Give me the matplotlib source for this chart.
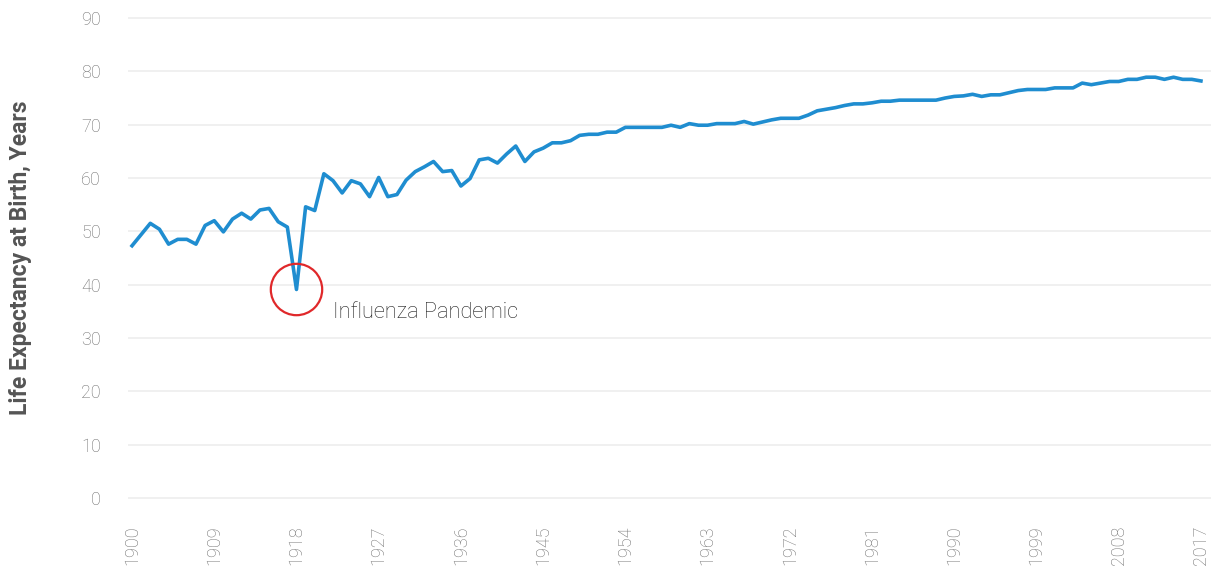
import matplotlib.pyplot as plt

# US life expectancy at birth
years = list(range(1900, 2018))
life_exp = [
    47.3, 49.4, 51.5, 50.4, 47.6, 48.5, 48.5, 47.6, 51.1, 52.0,   # 1900s
    49.9, 52.3, 53.4, 52.3, 54.0, 54.3, 51.8, 50.8, 39.1, 54.6,   # 1910s
    53.9, 60.8, 59.5, 57.2, 59.5, 58.9, 56.5, 60.1, 56.5, 56.9,   # 1920s
    59.6, 61.2, 62.1, 63.1, 61.2, 61.4, 58.5, 59.9, 63.4, 63.7,   # 1930s
    62.8, 64.5, 66.0, 63.1, 64.9, 65.6, 66.6, 66.6, 67.0, 68.0,   # 1940s
    68.2, 68.2, 68.6, 68.6, 69.5, 69.5, 69.5, 69.5, 69.5, 69.9,   # 1950s
    69.5, 70.2, 69.9, 69.9, 70.2, 70.2, 70.2, 70.6, 70.1, 70.5,   # 1960s
    70.9, 71.2, 71.2, 71.2, 71.8, 72.6, 72.9, 73.2, 73.6, 73.9,   # 1970s
    73.9, 74.1, 74.4, 74.4, 74.6, 74.6, 74.6, 74.6, 74.6, 75.0,   # 1980s
    75.3, 75.4, 75.7, 75.3, 75.6, 75.6, 76.0, 76.4, 76.6, 76.6,   # 1990s
    76.6, 76.9, 76.9, 76.9, 77.8, 77.5, 77.8, 78.1, 78.1, 78.5,   # 2000s
    78.5, 78.9, 78.9, 78.5, 78.9, 78.5, 78.5, 78.2,               # 2010s
]
tick_years = list(range(1900, 2018, 9))
y_ticks = list(range(0, 100, 10))
event_year = 1918
event_value = 39.1
event_label = "Influenza Pandemic"

fig = plt.figure(figsize=(12.11, 5.69), dpi=100)
ax = fig.add_axes([0.1057, 0.1154, 0.8943, 0.8623])

ax.plot(years, life_exp, color="#1f8dd0", linewidth=2.6, zorder=3)

# red circle round the 1918 dip
ax.plot(event_year, event_value, marker="o", markersize=37, markerfacecolor="none",
        markeredgecolor="#e0282a", markeredgewidth=1.6, zorder=4)
ax.text(1922.0, 34.7, event_label, ha="left", va="center", fontsize=15.7,
        color="#1e1e1e", family="Roboto", fontweight="light")

ax.set_xlim(1899.56, 2018.1)
ax.set_ylim(-1, 91)
ax.set_xticks(tick_years)
ax.set_xticklabels([str(y) for y in tick_years], rotation=90)
ax.set_yticks(y_ticks)

ax.grid(axis="y", color="#efefef", linewidth=1.3, zorder=0)
ax.grid(axis="x", visible=False)
for s in ax.spines.values():
    s.set_visible(False)
ax.tick_params(axis="both", length=0, labelsize=13, labelcolor="#6e6e6e")
ax.tick_params(axis="y", pad=19.5)
ax.tick_params(axis="x", pad=16)
for lbl in ax.get_xticklabels() + ax.get_yticklabels():
    lbl.set_family("Roboto")
    lbl.set_fontweight("light")

ax.set_ylabel("Life Expectancy at Birth, Years", fontsize=16.5, fontweight="bold",
              color="#555555", family="Roboto")
ax.yaxis.set_label_coords(-0.0886, 0.5)

plt.savefig("out.png", dpi=100)
